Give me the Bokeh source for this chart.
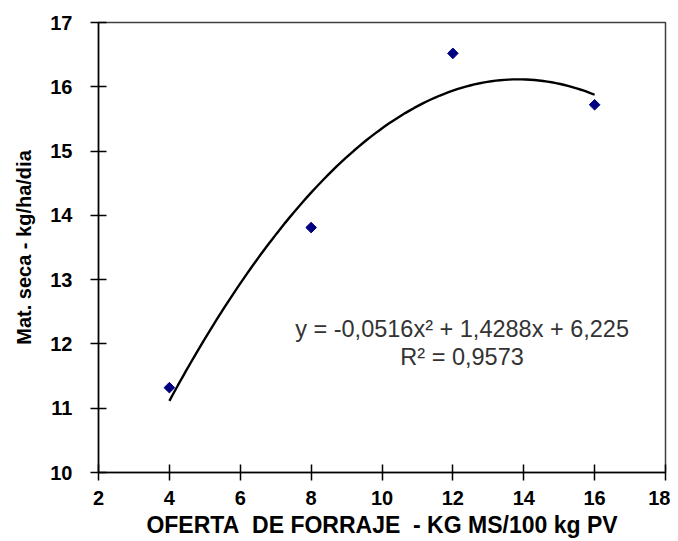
from bokeh.plotting import figure
from bokeh.models import Range1d, Label, FixedTicker
from bokeh.embed import file_html
from bokeh.resources import INLINE
import numpy as np

# Data
oferta = [4, 8, 12, 16]
mat_seca = [11.32, 13.81, 16.52, 15.72]

# Trendline coefficients as shown in the chart label (a, b, c)
coef = [-0.0516, 1.4288, 6.225]
eq_text = "y = -0,0516x² + 1,4288x + 6,225"
r2_text = "R² = 0,9573"

x_ticks = [2, 4, 6, 8, 10, 12, 14, 16, 18]
y_ticks = [10, 11, 12, 13, 14, 15, 16, 17]

p = figure(width=670, height=540, output_backend="svg", toolbar_location=None,
           x_range=Range1d(2, 18), y_range=Range1d(10, 17),
           min_border_left=98, min_border_top=22, min_border_right=5, min_border_bottom=68)

p.xgrid.visible = False
p.ygrid.visible = False
p.outline_line_color = "#404040"
p.outline_line_width = 1.5

xs = np.linspace(min(oferta), max(oferta), 100)
ys = np.polyval(coef, xs)
p.line(xs, ys, line_color="black", line_width=2.4)

p.scatter(oferta, mat_seca, marker="square", angle=np.pi / 4, size=7.5,
          fill_color="#000080", line_color="#000080")

for ax in (p.xaxis[0], p.yaxis[0]):
    ax.major_label_text_font = "Liberation Sans"
    ax.major_label_text_font_style = "bold"
    ax.major_label_text_font_size = "20px"
    ax.major_label_text_color = "black"
    ax.axis_label_text_font = "Liberation Sans"
    ax.axis_label_text_font_style = "bold"
    ax.axis_label_text_color = "black"
    ax.axis_line_color = "black"
    ax.axis_line_width = 1.5
    ax.major_tick_line_color = "black"
    ax.major_tick_line_width = 1.5
    ax.major_tick_in = 8
    ax.major_tick_out = 8
    ax.minor_tick_line_color = None

p.xaxis.axis_label_text_font_size = "23px"
p.yaxis.axis_label_text_font_size = "20px"
p.xaxis.ticker = FixedTicker(ticks=x_ticks)
p.yaxis.ticker = FixedTicker(ticks=y_ticks)
p.xaxis.axis_label = "OFERTA\u00a0 DE FORRAJE\u00a0 - KG MS/100 kg PV"
p.yaxis.axis_label = "Mat. seca - kg/ha/dia"
p.xaxis.major_label_standoff = 10
p.yaxis.major_label_standoff = 18
p.xaxis.axis_label_standoff = 4
p.yaxis.axis_label_standoff = 12

p.add_layout(Label(x=12.26, y=12.24, text=eq_text, text_align="center", text_baseline="alphabetic",
                   text_font="Liberation Sans", text_font_size="23.5px", text_color="#333333"))
p.add_layout(Label(x=12.26, y=11.80, text=r2_text, text_align="center", text_baseline="alphabetic",
                   text_font="Liberation Sans", text_font_size="23.5px", text_color="#333333"))

open("out.html", "w").write(file_html(p, INLINE))
